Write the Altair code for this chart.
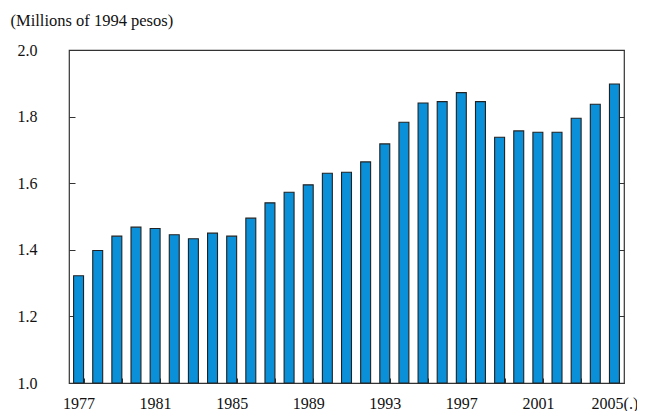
import altair as alt
import pandas as pd

years = list(range(1977, 2006))
values = [1.322, 1.398, 1.441, 1.468, 1.464, 1.445, 1.433, 1.450, 1.441, 1.495,
          1.541, 1.573, 1.595, 1.630, 1.633, 1.664, 1.718, 1.783, 1.841, 1.845,
          1.872, 1.845, 1.738, 1.757, 1.753, 1.753, 1.795, 1.837, 1.898]
y_ticks = [1.0, 1.2, 1.4, 1.6, 1.8, 2.0]
x_tick_years = [str(y) for y in range(1977, 2006, 2)]

df = pd.DataFrame({"year": [str(y) for y in years], "value": values})

FONT = "Liberation Serif"
yscale = alt.Scale(domain=[1.0, 2.0], zero=False, nice=False)
xscale = alt.Scale(paddingInner=0.48, paddingOuter=0.24)

xaxis = alt.Axis(
    title=None, values=x_tick_years, tickBand="extent", offset=-5, tickSize=5,
    domain=False, labelAngle=0, labelPadding=12, labelOverlap=False, grid=False,
    labelExpr="(toNumber(datum.value) - 1977) % 4 == 0 ? (datum.value == '2005' ? '2005(.)' : datum.value) : ''",
    labelFont=FONT, labelFontSize=16, labelColor="#111", tickColor="#333",
)

bars = alt.Chart(df).mark_bar(
    color="#0a90d8", stroke="#222", strokeWidth=1.1
).encode(
    x=alt.X("year:O", scale=xscale, axis=xaxis),
    y=alt.Y("value:Q", scale=yscale, axis=alt.Axis(
        title="(Millions of 1994 pesos)", titleAngle=0, titleAlign="left",
        titleBaseline="alphabetic", titleX=-65, titleY=-25, titleFont=FONT,
        titleFontSize=16.5, titleFontWeight="normal", titleColor="#111",
        values=y_ticks, format=".1f", offset=-6, tickSize=6, domain=False,
        grid=False, labelPadding=32, labelFont=FONT, labelFontSize=16,
        labelColor="#111", tickColor="#333")),
    y2=alt.datum(1.0),
)

right = alt.Chart(df).mark_tick(opacity=0).encode(
    y=alt.Y("value:Q", scale=yscale, axis=alt.Axis(
        orient="right", title=None, values=y_ticks, labels=False, offset=-6,
        tickSize=6, domain=False, grid=False, tickColor="#333")),
)

chart = alt.layer(bars, right).resolve_scale(y="independent").properties(
    width=555, height=333,
    background="white",
    autosize=alt.AutoSizeParams(type="none"),
    padding={"left": 61, "top": 42, "right": 13, "bottom": 30},
).configure_view(stroke="#333", strokeWidth=1.2).configure_axis(grid=False)

chart.save("out.html", embed_options={"renderer": "svg", "actions": False})
